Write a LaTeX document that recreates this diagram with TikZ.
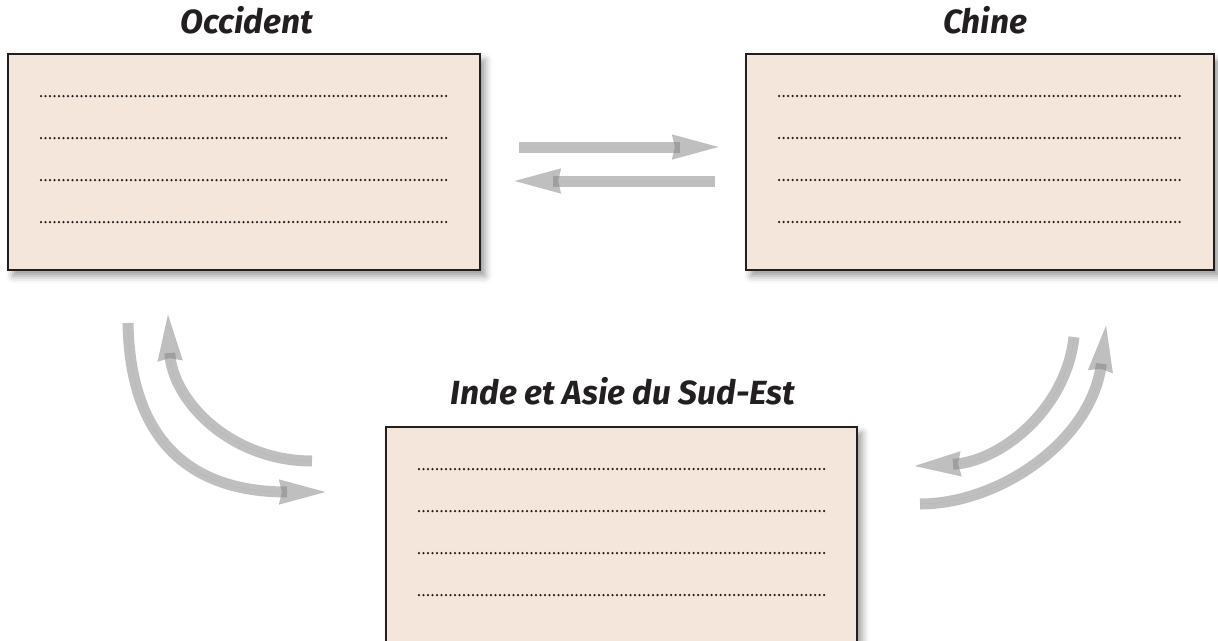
\documentclass[tikz,border=0pt]{standalone}
\usepackage{fontspec}
\newfontfamily\titlefont{Fira Sans}
\usetikzlibrary{arrows.meta,shadows.blur}
\definecolor{boxfill}{HTML}{F4E6DA}
\definecolor{boxline}{HTML}{231F20}
\definecolor{flowgray}{HTML}{808080}
\tikzset{
  panel/.style={draw=boxline, line width=2.4pt, fill=boxfill, rectangle, anchor=north west, inner sep=0pt, outer sep=0pt,
    blur shadow={shadow xshift=5pt, shadow yshift=-6pt, shadow blur radius=7pt, shadow opacity=40}},
  title/.style={font=\titlefont\bfseries\itshape\fontsize{33.5}{38}\selectfont, text=boxline, anchor=base, inner sep=0pt},
  dots/.style={draw=boxline, line width=2.5pt, line cap=round, dash pattern=on 0pt off 4.5pt},
  shaft/.style={draw=flowgray, opacity=0.5, line width=11pt},
  head/.style={draw=flowgray, opacity=0.5, line width=0.01pt, -{Stealth[length=46pt,width=25pt,inset=3pt]}},
}
\newcommand\flowarrow[1]{\draw[shaft, shorten >=38pt] #1; \draw[head] #1;}
\begin{document}
\begin{tikzpicture}[x=1pt, y=-1pt]
  \useasboundingbox (0,0) rectangle (1218,640);
  \clip (0,0) rectangle (1218,640);

  % panels
  \node[panel, minimum width=472pt, minimum height=216pt] (occ) at (8,54) {};
  \node[panel, minimum width=468pt, minimum height=216pt] (chi) at (746,54) {};
  \node[panel, minimum width=471pt, minimum height=270pt] (ind) at (386,427) {};

  % titles
  \node[title] (occT) at (247,33) {Occident};
  \node[title] (chiT) at (985,33) {Chine};
  \node[title] (indT) at (623,404) {Inde et Asie du Sud-Est};

  % dotted writing lines
  \foreach \n in {occ,chi,ind}{
    \foreach \dy in {42,84,126,168}{
      \draw[dots] ([xshift=33pt, yshift=-\dy pt]\n.north west) -- ([xshift=-30pt, yshift=-\dy pt]\n.north east);
    }
  }

  % arrow end points
  \coordinate (hAs) at (519,147);
  \coordinate (hAe) at (718,147);
  \coordinate (hBs) at (715,181);
  \coordinate (hBe) at (515,181);
  \coordinate (lOs) at (128,323);
  \coordinate (lOe) at (325,492);
  \coordinate (lIs) at (312,461);
  \coordinate (lIe) at (168,315);
  \coordinate (rOs) at (920,504);
  \coordinate (rOe) at (1106,326);
  \coordinate (rIs) at (1074,337);
  \coordinate (rIe) at (915,466);

  % Occident <-> Chine
  \flowarrow{(hAs) -- (hAe)}
  \flowarrow{(hBs) -- (hBe)}
  % Occident <-> Inde
  \flowarrow{(lOs) .. controls (130,440) and (190,492) .. (lOe)}
  \flowarrow{(lIs) .. controls (230,461) and (172,400) .. (lIe)}
  % Chine <-> Inde
  \flowarrow{(rOs) .. controls (1000,504) and (1092,440) .. (rOe)}
  \flowarrow{(rIs) .. controls (1066,410) and (1000,462) .. (rIe)}
\end{tikzpicture}
\end{document}
